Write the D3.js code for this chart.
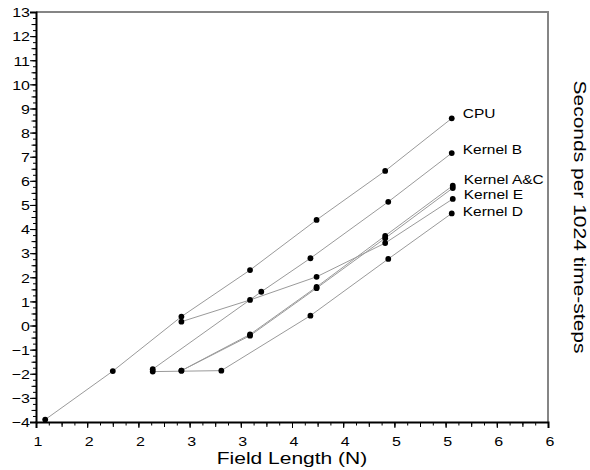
<!DOCTYPE html>
<html>
<head>
<meta charset="utf-8">
<script src="https://cdn.jsdelivr.net/npm/d3@7"></script>
<style>
  body { margin: 0; background: #fff; }
  svg { font-family: "Liberation Sans", Arial, Helvetica, sans-serif; }
</style>
</head>
<body>
<svg id="chart" width="590" height="470"></svg>
<script>
// values (x = field length, y = seconds)
const cpuX = [1.09, 1.75, 2.42, 3.09, 3.74, 4.41, 5.06];
const cpuY = [-3.90, -1.89, 0.37, 2.30, 4.38, 6.41, 8.59];
const kernelBX = [2.14, 3.20, 3.68, 4.44, 5.06];
const kernelBY = [-1.81, 1.40, 2.79, 5.13, 7.15];
const kernelAX = [2.42, 3.09, 3.74, 4.41, 5.07];
const kernelAY = [-1.87, -0.37, 1.60, 3.72, 5.80];
const kernelCX = [2.42, 3.09, 3.74, 4.41, 5.07];
const kernelCY = [-1.87, -0.42, 1.55, 3.62, 5.70];
const kernelEX = [2.42, 3.09, 3.74, 4.41, 5.07];
const kernelEY = [0.16, 1.06, 2.02, 3.42, 5.25];
const kernelDX = [2.14, 2.81, 3.68, 4.44, 5.06];
const kernelDY = [-1.91, -1.87, 0.41, 2.76, 4.65];

const xTickValues = [1, 1.5, 2, 2.5, 3, 3.5, 4, 4.5, 5, 5.5, 6];
const xTickLabels = ["1", "2", "2", "3", "3", "4", "4", "5", "5", "6", "6"];
const yTickValues = [-4, -3, -2, -1, 0, 1, 2, 3, 4, 5, 6, 7, 8, 9, 10, 11, 12, 13];

const series = [
  { name: "CPU", xs: cpuX, ys: cpuY },
  { name: "Kernel B", xs: kernelBX, ys: kernelBY },
  { name: "Kernel A", xs: kernelAX, ys: kernelAY },
  { name: "Kernel C", xs: kernelCX, ys: kernelCY },
  { name: "Kernel E", xs: kernelEX, ys: kernelEY },
  { name: "Kernel D", xs: kernelDX, ys: kernelDY }
];
// end labels (A and C share one)
const labels = [
  { text: "CPU", s: 0, dy: 0 },
  { text: "Kernel B", s: 1, dy: 1 },
  { text: "Kernel A&C", s: 2, dy: -2 },
  { text: "Kernel E", s: 4, dy: 0.5 },
  { text: "Kernel D", s: 5, dy: 2.7 }
];

const svg = d3.select("#chart");
const x = d3.scaleLinear().domain([1, 6]).range([36, 548]);
const y = d3.scaleLinear().domain([-4, 13]).range([422, 12]);

// grey frame top + right
svg.append("path")
  .attr("d", `M${x(1)},${y(13)}H${x(6)}V${y(-4)}`)
  .attr("fill", "none")
  .attr("stroke", "#858585")
  .attr("stroke-width", 2);

const line = d3.line().x(d => x(d[0])).y(d => y(d[1]));

svg.selectAll(".series")
  .data(series)
  .join("path")
  .attr("class", "series")
  .attr("d", s => line(s.xs.map((v, i) => [v, s.ys[i]])))
  .attr("fill", "none")
  .attr("stroke", "#9a9a9a")
  .attr("stroke-width", 1);

series.forEach(s => {
  svg.append("g").selectAll("circle")
    .data(s.xs.map((v, i) => [v, s.ys[i]]))
    .join("circle")
    .attr("cx", d => x(d[0]))
    .attr("cy", d => y(d[1]))
    .attr("r", 2.9)
    .attr("fill", "#000");
});

svg.selectAll(".lbl")
  .data(labels)
  .join("text")
  .attr("class", "lbl")
  .attr("transform", d => {
    const s = series[d.s], n = s.xs.length - 1;
    return `translate(${x(s.xs[n]) + 11},${y(s.ys[n]) + d.dy}) scale(1,0.88)`;
  })
  .style("font-size", "15.5px")
  .text(d => d.text);

// x axis: minor, medium, major ticks
const xMinor = d3.range(0, 41).map(i => 1 + i * 0.125);
const xMid = d3.range(0, 21).map(i => 1 + i * 0.25);

svg.append("g")
  .attr("transform", `translate(0,${y(-4)})`)
  .call(d3.axisBottom(x).tickValues(xMinor).tickSize(3.5).tickFormat(""))
  .call(g => g.select(".domain").remove());
svg.append("g")
  .attr("transform", `translate(0,${y(-4)})`)
  .call(d3.axisBottom(x).tickValues(xMid).tickSize(5).tickFormat(""))
  .call(g => g.select(".domain").remove());
const xAxis = svg.append("g")
  .attr("transform", `translate(0,${y(-4)})`)
  .call(d3.axisBottom(x).tickValues(xTickValues).tickSizeOuter(0).tickSize(6)
    .tickFormat((d, i) => xTickLabels[i]));
xAxis.selectAll("text")
  .attr("y", 0).attr("dy", 0)
  .attr("transform", "translate(1.5,23.5) scale(1,0.82)")
  .style("font-size", "16px")
  .attr("fill", "#000");

// y axis
const yMinor = d3.range(0, 69).map(i => -4 + i * 0.25);
const yMid = d3.range(0, 35).map(i => -4 + i * 0.5);
svg.append("g")
  .attr("transform", `translate(${x(1)},0)`)
  .call(d3.axisLeft(y).tickValues(yMinor).tickSize(3).tickFormat(""))
  .call(g => g.select(".domain").remove());
svg.append("g")
  .attr("transform", `translate(${x(1)},0)`)
  .call(d3.axisLeft(y).tickValues(yMid).tickSize(4.5).tickFormat(""))
  .call(g => g.select(".domain").remove());
const yAxis = svg.append("g")
  .attr("transform", `translate(${x(1)},0)`)
  .call(d3.axisLeft(y).tickValues(yTickValues).tickSizeOuter(0).tickSize(6));
yAxis.selectAll("text")
  .attr("x", 0).attr("dy", 0)
  .attr("transform", "translate(-6,4.8) scale(1,0.82)")
  .style("font-size", "16px")
  .attr("fill", "#000");

svg.selectAll(".domain").attr("stroke", "#000").attr("stroke-width", 2);
svg.selectAll(".tick line").attr("stroke", "#000");

// axis titles
svg.append("text")
  .attr("transform", `translate(${(x(1) + x(6)) / 2},464) scale(1,0.8)`)
  .attr("text-anchor", "middle")
  .style("font-size", "21px")
  .text("Field Length (N)");

svg.append("text")
  .attr("transform", "translate(574,217) rotate(90) scale(1,0.75)")
  .attr("text-anchor", "middle")
  .style("font-size", "21px")
  .text("Seconds per 1024 time-steps");
</script>
</body>
</html>
